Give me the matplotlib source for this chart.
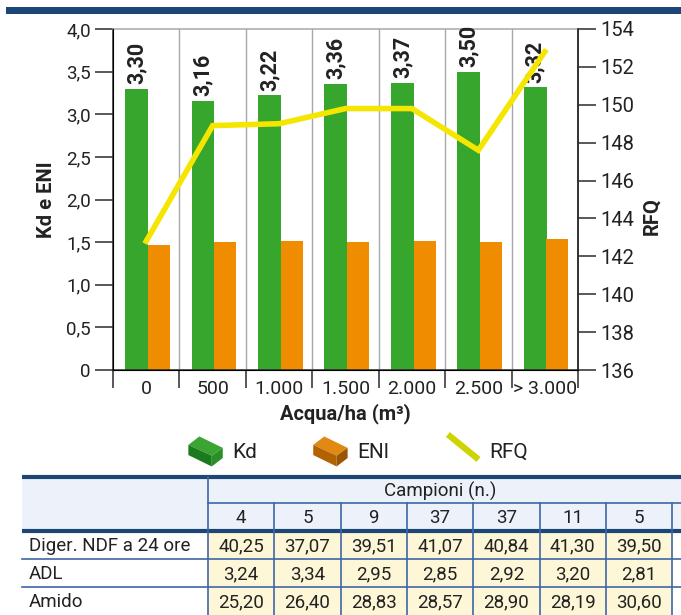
import numpy as np
import matplotlib.pyplot as plt
from matplotlib.patches import Polygon, Rectangle
from matplotlib.lines import Line2D
from matplotlib.legend_handler import HandlerBase

plt.rcParams['font.family'] = ['Roboto', 'DejaVu Sans']

# dati del grafico
categories = ['0', '500', '1.000', '1.500', '2.000', '2.500', '> 3.000']
kd = [3.30, 3.16, 3.22, 3.36, 3.37, 3.50, 3.32]
eni = [1.47, 1.50, 1.51, 1.50, 1.51, 1.50, 1.54]
rfq = [142.8, 148.9, 149.0, 149.8, 149.8, 147.6, 152.8]

# dati della tabella
campioni = ['4', '5', '9', '37', '37', '11', '5']
row_labels = ['Diger. NDF a 24 ore', 'ADL', 'Amido']
diger_ndf = [40.25, 37.07, 39.51, 41.07, 40.84, 41.30, 39.50]
adl = [3.24, 3.34, 2.95, 2.85, 2.92, 3.20, 2.81]
amido = [25.20, 26.40, 28.83, 28.57, 28.90, 28.19, 30.60]

green = '#36a62c'
orange = '#f08c00'
yellow = '#f5e600'
dark = '#2b2b2b'
txt = '#222222'
blue_dark = '#1c4676'
blue_line = '#3d66a6'


def fmt(v, d=2):
    return f'{v:.{d}f}'.replace('.', ',')


fig = plt.figure(figsize=(6.81, 6.15), dpi=100)

# fascia blu in alto
fig.add_artist(Rectangle((6 / 681, 1 - 14 / 615), 1, 7 / 615, transform=fig.transFigure,
                         color=blue_dark, lw=0))

ax = fig.add_axes([113 / 681, 1 - 370 / 615, 465 / 681, 341 / 615])
x = np.arange(len(categories))
ax.bar(x - 0.145, kd, 0.345, color=green, zorder=2)
ax.bar(x + 0.19, eni, 0.33, color=orange, zorder=2)
for xi, v in zip(x, kd):
    ax.text(xi - 0.145, v + 0.05, fmt(v), rotation=90, ha='center', va='bottom',
            fontsize=15.5, fontweight='bold', color=txt, zorder=4)

ax.set_xlim(-0.5, len(categories) - 0.5)
ax.set_ylim(0, 4)
yt = np.arange(0, 4.01, 0.5)
ax.set_yticks(yt)
ax.set_yticklabels(['0'] + [fmt(t, 1) for t in yt[1:]], fontsize=13.5)
ax.set_xticks(x)
ax.set_xticklabels(categories, fontsize=14)
ax.set_xticks(np.arange(-0.5, len(categories)), minor=True)
ax.tick_params(axis='x', which='major', length=0, pad=7, colors=txt)
ax.tick_params(axis='x', which='minor', length=13, width=1.1, color=dark)
ax.tick_params(axis='y', length=13, width=1.1, color=dark, pad=3, labelcolor=txt)
for b in np.arange(0.5, len(categories) - 0.5):
    ax.axvline(b, color='#a8a8a8', lw=1, zorder=1)
ax.spines['top'].set_color('#a8a8a8')
ax.spines['left'].set_color(dark)
ax.spines['right'].set_color(dark)
ax.spines['bottom'].set_color(dark)
for s in ax.spines.values():
    s.set_linewidth(1.1)

ax2 = ax.twinx()
ax2.plot(x, rfq, color=yellow, lw=4, zorder=3, solid_joinstyle='miter')
ax2.set_ylim(136, 154)
ax2.set_yticks(np.arange(136, 155, 2))
ax2.tick_params(axis='y', length=13, width=1.1, color=dark, labelsize=14.5, pad=3,
                labelcolor=txt)
ax2.spines['top'].set_visible(False)
ax2.spines['right'].set_color(dark)
ax2.spines['right'].set_linewidth(1.1)

fig.text(46 / 681, 1 - 200 / 615, 'Kd e ENI', rotation=90, ha='center', va='center',
         fontsize=14.5, fontweight='bold', color=txt)
fig.text(652 / 681, 1 - 216 / 615, 'RFQ', rotation=90, ha='center', va='center',
         fontsize=14.5, fontweight='bold', color=txt)
fig.text(345 / 681, 1 - 414 / 615, 'Acqua/ha (m³)', ha='center', va='center',
         fontsize=14.5, fontweight='bold', color=txt)


# legenda con icone a parallelepipedo
class BoxHandler(HandlerBase):
    def __init__(self, top, front, side):
        super().__init__()
        self.top, self.front, self.side = top, front, side

    def create_artists(self, legend, orig_handle, xd, yd, w, h, fontsize, trans):
        x0, y0 = -xd, -yd - 0.3 * h
        h = h * 1.5
        P = lambda a, b: (x0 + a * w, y0 + b * h)
        top = Polygon([P(0, .72), P(.32, 1.0), P(1.0, .62), P(.68, .36)], closed=True,
                      fc=self.top, ec='none', transform=trans)
        front = Polygon([P(0, .72), P(.68, .36), P(.68, 0), P(0, .38)], closed=True,
                        fc=self.front, ec='none', transform=trans)
        side = Polygon([P(.68, .36), P(1.0, .62), P(1.0, .28), P(.68, 0)], closed=True,
                       fc=self.side, ec='none', transform=trans)
        return [top, front, side]


class SlashHandler(HandlerBase):
    def create_artists(self, legend, orig_handle, xd, yd, w, h, fontsize, trans):
        ln = Line2D([-xd + 0.15 * w, -xd + 0.9 * w], [-yd + 1.2 * h, -yd + 0.15 * h],
                    color='#cdd400', lw=4.5, transform=trans)
        return [ln]


h_kd = Rectangle((0, 0), 1, 1)
h_eni = Rectangle((0, 0), 1, 1)
h_rfq = Line2D([], [])
fig.legend([h_kd, h_eni, h_rfq], ['Kd', 'ENl', 'RFQ'],
           handler_map={h_kd: BoxHandler('#3aa532', '#1b7a1d', '#2a8f26'),
                        h_eni: BoxHandler('#e08a14', '#b36200', '#9a5500'),
                        h_rfq: SlashHandler()},
           loc='center', bbox_to_anchor=(358 / 681, 1 - 451 / 615), ncol=3, frameon=False,
           fontsize=15, handlelength=1.65, handleheight=1.1, handletextpad=0.45,
           columnspacing=2.7, labelcolor=txt)

# tabella
tab = fig.add_axes([0, 0, 1, 1], zorder=-1)
tab.set_xlim(0, 681)
tab.set_ylim(615, 0)
tab.axis('off')
x_left, x_lab, cw = 22, 208, 66.3
ncol = len(campioni)
x_right = x_lab + ncol * cw
y_top, y_mid, y_head = 477, 503, 531
rh = 28
values = [diger_ndf, adl, amido]

tab.add_patch(Rectangle((x_left, y_top), 681 - x_left, y_head - y_top, fc='#edf2fa', ec='none'))
tab.add_patch(Rectangle((x_lab, y_head), x_right - x_lab, 615 - y_head, fc='#fdf7d8', ec='none'))
tab.plot([x_left, 681], [y_top, y_top], color=blue_dark, lw=3, solid_capstyle='butt')
tab.plot([x_lab, 681], [y_mid, y_mid], color=blue_line, lw=1.2)
tab.plot([x_left, 681], [y_head, y_head], color=blue_dark, lw=3, solid_capstyle='butt')
for r in range(1, len(row_labels)):
    yy = y_head + r * rh
    tab.plot([x_left, 681], [yy, yy], color=blue_line, lw=1.2)
tab.plot([x_lab, x_lab], [y_top, 615], color=blue_line, lw=1.2)
for c in range(1, ncol + 1):
    xx = x_lab + c * cw
    tab.plot([xx, xx], [y_mid, 615], color=blue_line, lw=1.2)

tab.text((x_lab + x_right) / 2, (y_top + y_mid) / 2 + 1, 'Campioni (n.)', ha='center',
         va='center', fontsize=13.5, color=txt)
for c, n in enumerate(campioni):
    tab.text(x_lab + (c + 0.5) * cw, (y_mid + y_head) / 2 + 1, n, ha='center', va='center',
             fontsize=13.5, color=txt)
for r, (lab, vals) in enumerate(zip(row_labels, values)):
    yc = y_head + (r + 0.5) * rh + 1
    tab.text(x_left + 7, yc, lab, ha='left', va='center', fontsize=13.5, color=txt)
    for c, v in enumerate(vals):
        tab.text(x_lab + (c + 0.5) * cw, yc, fmt(v), ha='center', va='center',
                 fontsize=13.5, color=txt)

fig.savefig('out.png', dpi=100)
